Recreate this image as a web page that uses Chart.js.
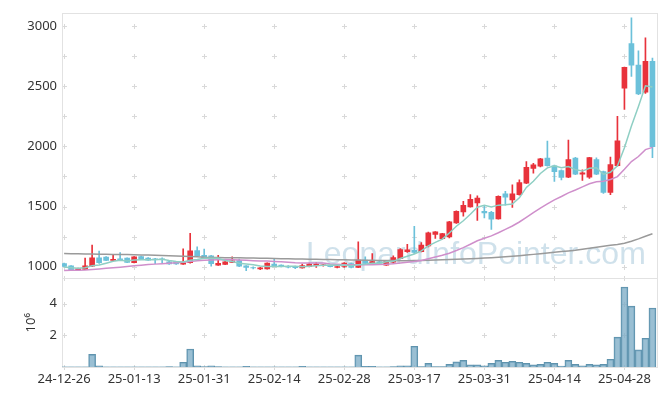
<!DOCTYPE html>
<html><head><meta charset="utf-8">
<script src="https://cdn.jsdelivr.net/npm/chart.js@4.4.1/dist/chart.umd.min.js"></script>
<style>html,body{margin:0;padding:0;background:#fff;}canvas{display:block;}</style>
</head><body>
<canvas id="c" width="665" height="396"></canvas>
<script>
const dates = ["24-12-26","24-12-27","24-12-30","25-01-02","25-01-03","25-01-06","25-01-07","25-01-08","25-01-09","25-01-10",
"25-01-13","25-01-14","25-01-15","25-01-16","25-01-17","25-01-20","25-01-21","25-01-22","25-01-23","25-01-24",
"25-01-31","25-02-03","25-02-04","25-02-05","25-02-06","25-02-07","25-02-10","25-02-11","25-02-12","25-02-13",
"25-02-14","25-02-17","25-02-18","25-02-19","25-02-20","25-02-21","25-02-24","25-02-25","25-02-26","25-02-27",
"25-02-28","25-03-04","25-03-05","25-03-06","25-03-07","25-03-10","25-03-11","25-03-12","25-03-13","25-03-14",
"25-03-17","25-03-18","25-03-19","25-03-20","25-03-21","25-03-24","25-03-25","25-03-26","25-03-27","25-03-28",
"25-03-31","25-04-01","25-04-02","25-04-03","25-04-04","25-04-07","25-04-08","25-04-09","25-04-10","25-04-11",
"25-04-14","25-04-15","25-04-16","25-04-17","25-04-18","25-04-21","25-04-22","25-04-23","25-04-24","25-04-25",
"25-04-28","25-04-29","25-04-30","25-05-02","25-05-07"];

const openP = [1027,1008,973,978,1006,1074,1080,1052,1066,1072,
1035,1085,1072,1066,1065,1041,1043,1022,1035,1135,
1096,1091,1014,1020,1036,1052,1008,993,983,983,
1022,1014,1003,1000,990,1000,1010,1012,1010,995,
1003,1027,995,1055,1027,1041,1014,1038,1068,1126,
1137,1126,1173,1269,1233,1247,1365,1456,1497,1530,
1461,1453,1398,1605,1555,1599,1695,1818,1835,1902,
1838,1799,1744,1902,1769,1744,1890,1791,1618,1840,
2483,2854,2675,2450,2706];
const highP = [1030,1010,990,1072,1180,1130,1085,1096,1118,1075,
1084,1088,1076,1070,1075,1050,1046,1150,1278,1165,
1148,1095,1095,1060,1082,1063,1010,1000,995,1032,
1063,1016,1010,1005,1022,1030,1035,1020,1015,1005,
1035,1030,1208,1082,1110,1045,1050,1091,1151,1187,
1335,1200,1288,1293,1278,1378,1465,1544,1599,1590,
1503,1461,1590,1626,1681,1722,1873,1859,1900,2044,
1845,1805,2052,1910,1805,1910,1905,1795,1912,2250,
2660,3069,2794,2903,2733];
const lowP = [1000,967,970,975,1000,1027,1050,1050,1050,1035,
1033,1060,1052,1025,1035,1020,1020,1020,1030,1085,
1070,1005,1012,1018,1034,1000,968,983,975,980,
1000,998,990,985,988,998,995,1005,998,990,
995,990,993,1025,1025,1028,1012,1030,1065,1120,
1108,1124,1165,1236,1230,1240,1360,1420,1495,1385,
1406,1311,1396,1511,1494,1595,1690,1777,1830,1835,
1709,1722,1740,1765,1717,1735,1765,1610,1599,1835,
2308,2582,2430,2440,1906];
const closeP = [1002,976,983,1008,1074,1035,1052,1062,1052,1037,
1082,1062,1055,1060,1058,1024,1024,1032,1132,1092,
1076,1025,1028,1041,1050,1005,995,990,991,1030,
1003,1000,996,993,1010,1022,1022,1016,1000,1002,
1030,995,1055,1027,1044,1030,1049,1077,1143,1140,
1120,1181,1283,1291,1275,1373,1461,1511,1560,1571,
1447,1396,1585,1579,1605,1700,1826,1846,1896,1841,
1791,1742,1890,1770,1780,1907,1770,1618,1849,2046,
2656,2675,2436,2706,1997];

// volume in millions of shares
const volume = [0.01,0.01,0.01,0.01,0.80,0.07,0.01,0.01,0.01,0.01,
0.01,0.01,0.01,0.01,0.01,0.03,0.01,0.30,1.14,0.07,
0.03,0.07,0.03,0.01,0.01,0.01,0.04,0.01,0.01,0.01,
0.01,0.01,0.01,0.01,0.04,0.01,0.01,0.01,0.01,0.01,
0.01,0.01,0.75,0.04,0.04,0.01,0.01,0.03,0.08,0.08,
1.31,0.03,0.23,0.03,0.03,0.17,0.32,0.42,0.14,0.14,
0.08,0.23,0.42,0.30,0.36,0.30,0.23,0.13,0.17,0.30,
0.23,0.06,0.42,0.17,0.08,0.17,0.14,0.17,0.49,1.89,
5.06,3.85,1.08,1.82,3.73];

const ma5 = [998,992,987,992,1009,1015,1030,1046,1055,1048,
1057,1059,1058,1059,1063,1052,1044,1040,1054,1061,
1071,1071,1071,1052,1044,1030,1024,1016,1006,1002,
1002,1003,1004,1004,1000,1004,1009,1013,1014,1012,
1014,1009,1016,1022,1030,1030,1041,1045,1069,1088,
1106,1132,1173,1203,1230,1281,1337,1382,1436,1495,
1510,1497,1512,1516,1522,1573,1659,1711,1775,1822,
1840,1823,1832,1807,1795,1818,1823,1769,1785,1838,
1988,2169,2332,2504,2494];
const ma20 = [970,971,972,974,978,982,987,992,997,1002,
1008,1013,1018,1022,1026,1030,1034,1038,1044,1050,
1054,1056,1059,1060,1059,1057,1055,1051,1048,1048,
1044,1041,1038,1034,1032,1032,1032,1031,1024,1020,
1017,1016,1017,1017,1016,1018,1020,1025,1032,1038,
1044,1053,1067,1082,1095,1113,1135,1159,1187,1216,
1237,1257,1283,1311,1339,1372,1411,1450,1487,1522,
1556,1584,1614,1638,1664,1690,1706,1711,1725,1749,
1810,1874,1916,1973,1992];
const maLong = [1110,1109,1108,1107,1106,1105,1104,1103,1102,1101,
1099,1098,1097,1096,1094,1092,1090,1088,1086,1084,
1080,1078,1077,1076,1075,1074,1073,1072,1071,1070,
1068,1067,1066,1065,1064,1063,1062,1061,1060,1059,
1058,1057,1056,1055,1054,1053,1052,1052,1051,1051,
1052,1053,1054,1056,1058,1060,1062,1064,1066,1069,
1072,1075,1079,1083,1087,1092,1097,1103,1108,1114,
1120,1126,1132,1138,1146,1154,1162,1170,1178,1186,
1196,1212,1232,1254,1275];

const priceTicks = [1000,1250,1500,1750,2000,2250,2500,2750,3000];
const volumeTicks = [2,4];
const dateTickIndex = [0,10,20,30,40,50,60,70,80];

const UP = '#e8323b', DOWN = '#6cc1da';
const candleColor = closeP.map((c,i)=> c >= openP[i] ? UP : DOWN);
const FONT = {family:'"Noto Sans", sans-serif', size:13};

const framePlugin = {
  id:'frame',
  beforeDatasetsDraw(chart){
    const {ctx, chartArea:a, scales:{x,y,y2}} = chart;
    ctx.save();
    // watermark
    ctx.font = '32px "Liberation Sans", Arial, sans-serif';
    ctx.fillStyle = 'rgba(160,196,215,0.5)';
    ctx.textBaseline = 'alphabetic';
    ctx.fillText('LeopardInfoPointer.com', a.left + 244, y.getPixelForValue(1020));
    // crosses
    ctx.strokeStyle = '#d9d9d9'; ctx.lineWidth = 1;
    const cross = (px,py)=>{
      px = Math.round(px)+0.5; py = Math.round(py)+0.5;
      ctx.beginPath(); ctx.moveTo(px-2.5,py); ctx.lineTo(px+2.5,py);
      ctx.moveTo(px,py-2.5); ctx.lineTo(px,py+2.5); ctx.stroke();
    };
    dateTickIndex.forEach(i=>{
      const px = x.getPixelForValue(i);
      priceTicks.forEach(v=>cross(px, y.getPixelForValue(v)));
      volumeTicks.forEach(v=>cross(px, y2.getPixelForValue(v)));
      cross(px, y2.top); cross(px, y2.bottom);
    });
    // frame
    ctx.strokeStyle = '#e2e2e2';
    ctx.strokeRect(Math.round(a.left)+0.5, Math.round(a.top)+0.5, Math.round(a.right-a.left), Math.round(a.bottom-a.top));
    ctx.beginPath(); ctx.moveTo(a.left, Math.round(y2.top)+0.5); ctx.lineTo(a.right, Math.round(y2.top)+0.5); ctx.stroke();
    ctx.restore();
  }
};

const idx = dates.map((d,i)=>i);
new Chart(document.getElementById('c'), {
  type:'bar',
  data:{
    datasets:[
      {type:'line', label:'MA5', data: idx.map(i=>({x:i,y:ma5[i]})), borderColor:'#8fcfc4', borderWidth:1.5, pointRadius:0, tension:0, yAxisID:'y', order:1},
      {type:'line', label:'MA20', data: idx.map(i=>({x:i,y:ma20[i]})), borderColor:'#cf8fcb', borderWidth:1.5, pointRadius:0, tension:0, yAxisID:'y', order:1},
      {type:'line', label:'MA120', data: idx.map(i=>({x:i,y:maLong[i]})), borderColor:'#9a9a9a', borderWidth:1.5, pointRadius:0, tension:0, yAxisID:'y', order:1},
      {label:'body', data: idx.map(i=>({x:i,y:[openP[i],closeP[i]]})), backgroundColor:candleColor, borderWidth:0, barThickness:5, grouped:false, yAxisID:'y', order:2},
      {label:'wick', data: idx.map(i=>({x:i,y:[lowP[i],highP[i]]})), backgroundColor:candleColor, borderWidth:0, barThickness:1, grouped:false, yAxisID:'y', order:3},
      {label:'volume', data: idx.map(i=>({x:i,y:volume[i]})), backgroundColor:'rgba(120,170,196,0.75)', borderColor:'#5f93ad', borderWidth:1, barPercentage:1, categoryPercentage:1, grouped:false, yAxisID:'y2', order:4}
    ]
  },
  options:{
    responsive:false, animation:false, devicePixelRatio:1,
    layout:{padding:{top:10,right:8,left:0,bottom:0}},
    plugins:{legend:{display:false}, tooltip:{enabled:false}},
    scales:{
      x:{type:'linear', min:-0.3, max:84.65, offset:false,
        grid:{display:false, drawTicks:false, offset:false}, border:{display:false},
        afterBuildTicks: s=>{ s.ticks = dateTickIndex.map(v=>({value:v})); },
        ticks:{callback:(v)=>dates[v], font:FONT, color:'#333', padding:4, maxRotation:0, autoSkip:false},
        afterFit: s=>{ s.height = 29; }
      },
      y:{type:'linear', position:'left', stack:'p', stackWeight:3, weight:2, min:903, max:3110,
        grid:{display:false, drawTicks:false}, border:{display:false},
        afterBuildTicks: s=>{ s.ticks = priceTicks.map(v=>({value:v})); },
        ticks:{font:FONT, color:'#333', padding:5, callback:(v)=>String(v)},
        afterFit: s=>{ s.width = 62; }
      },
      y2:{type:'linear', position:'left', stack:'p', stackWeight:1, weight:1, min:0, max:5.6,
        grid:{display:false, drawTicks:false}, border:{display:false},
        afterBuildTicks: s=>{ s.ticks = volumeTicks.map(v=>({value:v})); },
        ticks:{font:FONT, color:'#333', padding:5, callback:(v)=>String(v)},
        title:{display:true, text:'10⁶', font:FONT, color:'#333', padding:{top:23,bottom:0}},
        afterFit: s=>{ s.width = 62; }
      }
    }
  },
  plugins:[framePlugin]
});
</script>
</body></html>
